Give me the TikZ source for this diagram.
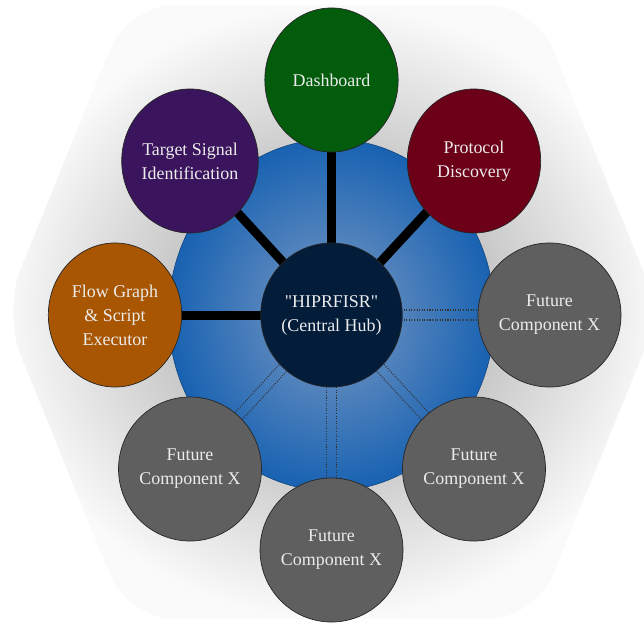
\documentclass[tikz,border=0pt]{standalone}
\usepackage{fontspec}
\setmainfont{Liberation Serif}[Ligatures=TeXOff]
\usetikzlibrary{shapes.geometric, calc, backgrounds}
\definecolor{HubNavy}{RGB}{2,28,58}
\definecolor{DashGreen}{RGB}{2,92,12}
\definecolor{TgtPurple}{RGB}{58,20,92}
\definecolor{ProtoRed}{RGB}{108,0,24}
\definecolor{FlowOrange}{RGB}{168,86,2}
\definecolor{FutGray}{RGB}{95,95,95}
\definecolor{RingIn}{RGB}{125,155,195}
\definecolor{RingOut}{RGB}{24,98,178}
\definecolor{LabelWhite}{RGB}{236,236,236}
\definecolor{GlowIn}{RGB}{150,150,150}
\definecolor{GlowOut}{RGB}{250,250,250}

\begin{document}
\begin{tikzpicture}[x=0.03cm, y=-0.03cm,
          comp/.style={ellipse, minimum width=4cm, minimum height=4.32cm,
                       draw=black!85, line width=0.6pt, text=LabelWhite,
                       font=\fontsize{15.3}{20.5}\selectfont, align=center,
                       inner sep=0pt},
          link/.style={line width=0.27cm, black},
          dots/.style={draw=black!80, line width=0.9pt, dash pattern=on 0.9pt off 1.3pt}
        ]
        \useasboundingbox (0,0) rectangle (644,623);

        % Central hub
        \node[comp, fill=HubNavy] (hub) at (331.5,315) {"HIPRFISR"\\(Central Hub)};

        \node[comp, fill=DashGreen]  (dash)  at (331.5,80)  {Dashboard};
        \node[comp, fill=TgtPurple]  (tgt)   at (190,161)   {Target Signal\\Identification};
        \node[comp, fill=ProtoRed]   (proto) at (474,161)   {Protocol\\Discovery};
        \node[comp, fill=FlowOrange] (flow)  at (115,315)   {Flow Graph\\\& Script\\Executor};

        % Placeholders
        \node[comp, fill=FutGray] (futR)  at (549.5,315) {Future\\Component X};
        \node[comp, fill=FutGray] (futBR) at (474,469)   {Future\\Component X};
        \node[comp, fill=FutGray] (futB)  at (331.5,550) {Future\\Component X};
        \node[comp, fill=FutGray] (futBL) at (190,469)   {Future\\Component X};

        \begin{pgfonlayer}{background}
          % Hexagon glow
          \begin{scope}
            \clip (0,0) rectangle (644,623);
            \shade[inner color=GlowIn, outer color=GlowOut, rounded corners=40pt]
                  (3,312) -- (128,5) -- (535,5) -- (660,312) -- (535,619) -- (128,619) -- cycle;
          \end{scope}
          % Blue ring
          \shade[inner color=RingIn, outer color=RingOut, draw=RingOut!70!black,
                 line width=0.5pt] (331.5,315) ellipse [x radius=163, y radius=176];

          \foreach \c in {dash, tgt, proto, flow} {
            \draw[link] (hub.center)--(\c.center);
          }
          \foreach \f in {futR, futBR, futB, futBL} {
            \draw[dots] ($(hub.center)!0.15cm!90:(\f.center)$)--($(\f.center)!0.15cm!-90:(hub.center)$);
            \draw[dots] ($(hub.center)!0.15cm!-90:(\f.center)$)--($(\f.center)!0.15cm!90:(hub.center)$);
          }
        \end{pgfonlayer}
      \end{tikzpicture}
\end{document}
